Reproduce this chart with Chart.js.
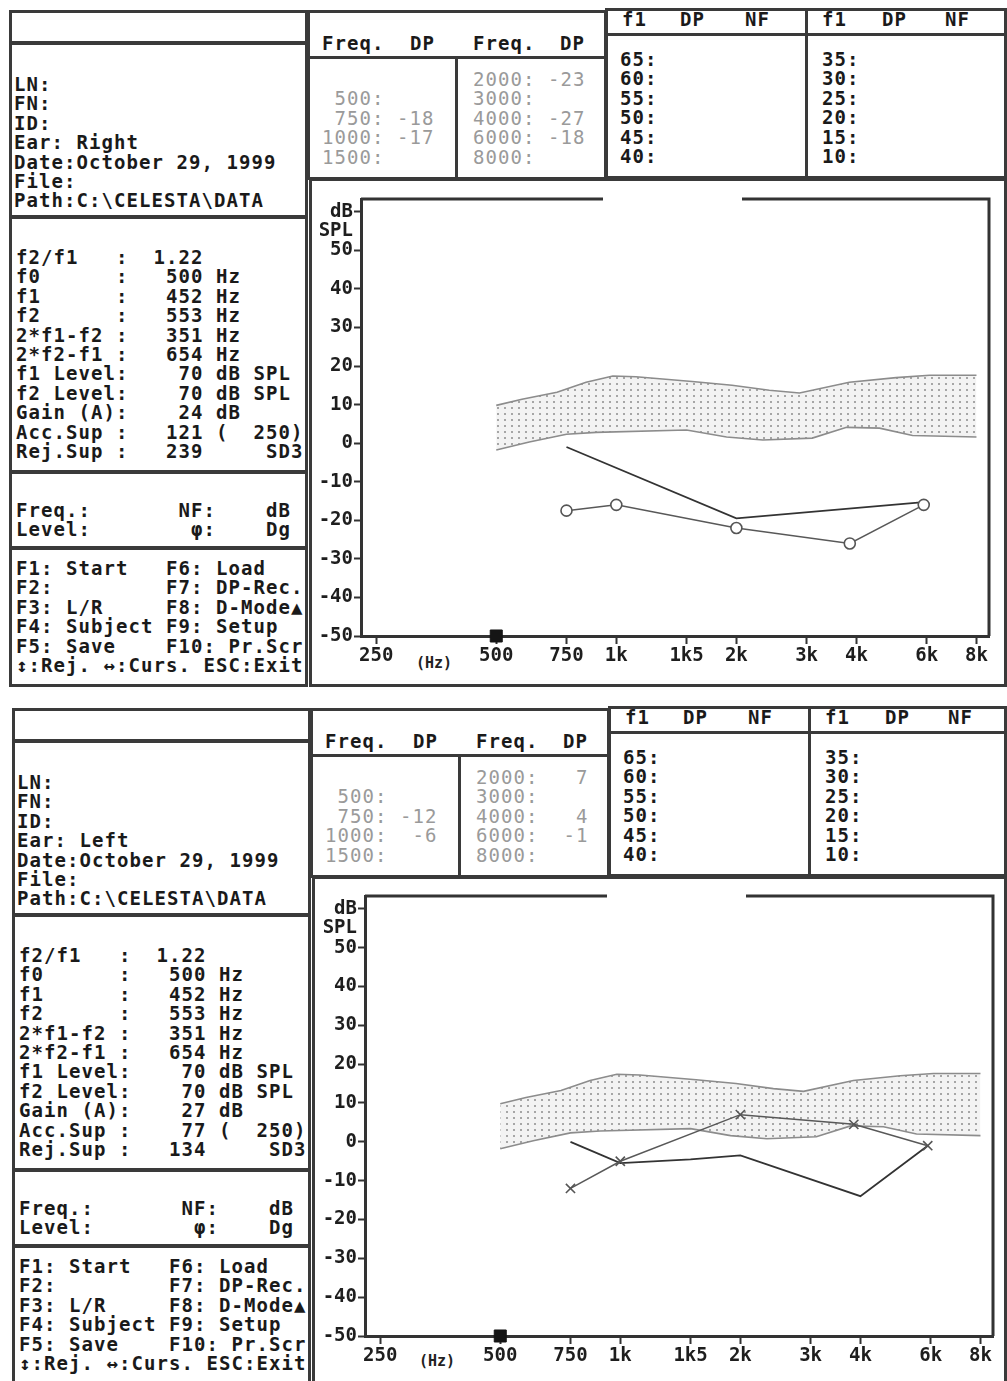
<!DOCTYPE html>
<html>
<head>
<meta charset="utf-8">
<script src="https://cdn.jsdelivr.net/npm/chart.js@4.4.0/dist/chart.umd.min.js"></script>
<style>
body { margin: 0; background: #fff; width: 1007px; height: 1381px; position: relative; overflow: hidden; font-family: 'DejaVu Sans Mono', monospace; }
.box { position: absolute; border: 3px solid #3a3a3a; box-sizing: border-box; background: #fff; }
.ln { position: absolute; background: #3a3a3a; }
.t { position: absolute; white-space: pre; font-weight: bold; font-size: 19px; letter-spacing: 1.06px; line-height: 19.4px; color: #1a1a1a; }
.g { font-weight: normal; color: #9a9a9a; }
.hz { position: absolute; font-weight: bold; font-size: 15px; color: #222; }
.cw { position: absolute; }
</style>
</head>
<body>
<script>
// chart values
const xTickVals = [250, 500, 750, 1000, 1500, 2000, 3000, 4000, 6000, 8000];
const xTickLabels = ['250', '500', '750', '1k', '1k5', '2k', '3k', '4k', '6k', '8k'];
const yTickVals = [-50, -40, -30, -20, -10, 0, 10, 20, 30, 40, 50, 55, 60];
const yTickLabels = ['-50', '-40', '-30', '-20', '-10', '0', '10', '20', '30', '40', '50', 'SPL', 'dB'];

// normal range band
const bandUpperFreq = [500, 580, 710, 840, 980, 1120, 1550, 1950, 2420, 2880, 3840, 5030, 6100, 8000];
const bandUpperDb = [9.8, 11.4, 13.2, 15.8, 17.4, 17.2, 16, 15, 13.7, 13, 15.8, 17, 17.6, 17.6];
const bandLowerFreq = [500, 605, 750, 890, 1500, 1890, 2330, 3100, 3780, 4570, 5530, 8000];
const bandLowerDb = [-1.8, 0.3, 2.3, 2.8, 3.4, 1.6, 0.8, 1.3, 4.1, 3.9, 2.0, 1.6];

// DP values
const dpFreq = [750, 1000, 2000, 3850, 5900];
const dpRight = [-17.5, -16, -22, -26, -16];
const dpLeft = [-12, -5, 7, 4.5, -1];

// noise floor
const nfRightFreq = [750, 2000, 5900];
const nfRight = [-1, -19.5, -15.3];
const nfLeftFreq = [750, 1000, 1500, 2000, 4000, 5900];
const nfLeft = [0, -5.5, -4.5, -3.5, -14, -1];

const cursorFreq = [500];
const cursorDb = [-50];

// screen texts
const panels = [
  {
    dx: 0, dy: 0, ear: 'Right', gain: '24', acc: '121', rej: '239',
    tabL: ['', ' 500:', ' 750: -18', '1000: -17', '1500:'],
    tabR: ['2000: -23', '3000:', '4000: -27', '6000: -18', '8000:']
  },
  {
    dx: 3, dy: 698, ear: 'Left', gain: '27', acc: ' 77', rej: '134',
    tabL: ['', ' 500:', ' 750: -12', '1000:  -6', '1500:'],
    tabR: ['2000:   7', '3000:', '4000:   4', '6000:  -1', '8000:']
  }
];

function add(cls, x, y, w, h, text) {
  const d = document.createElement('div');
  d.className = cls;
  d.style.left = x + 'px';
  d.style.top = y + 'px';
  if (w != null) d.style.width = w + 'px';
  if (h != null) d.style.height = h + 'px';
  if (text != null) d.textContent = text;
  document.body.appendChild(d);
  return d;
}

panels.forEach(p => {
  const X = v => v + p.dx, Y = v => v + p.dy;
  // left column
  add('box', X(9), Y(10), 299, 34);
  add('box', X(9), Y(42), 299, 176);
  add('box', X(9), Y(216), 299, 257);
  add('box', X(9), Y(471), 299, 78);
  add('box', X(9), Y(547), 299, 140);
  // tables
  add('box', X(307), Y(10), 300, 170);
  add('ln', X(307), Y(56), 300, 3);
  add('ln', X(455), Y(57), 3, 122);
  add('box', X(605), Y(8), 402 - p.dx, 171);
  add('ln', X(605), Y(33), 402, 3);
  add('ln', X(805), Y(8), 3, 171);
  // chart frame box
  add('box', X(309), Y(178), 698 - p.dx, 509);

  add('t', X(14), Y(75), null, null,
    ['LN:', 'FN:', 'ID:', 'Ear: ' + p.ear, 'Date:October 29, 1999', 'File:', 'Path:C:\\CELESTA\\DATA'].join('\n'));
  add('t', X(16), Y(248), null, null, [
    'f2/f1   :  1.22',
    'f0      :   500 Hz',
    'f1      :   452 Hz',
    'f2      :   553 Hz',
    '2*f1-f2 :   351 Hz',
    '2*f2-f1 :   654 Hz',
    'f1 Level:    70 dB SPL',
    'f2 Level:    70 dB SPL',
    'Gain (A):    ' + p.gain + ' dB',
    'Acc.Sup :   ' + p.acc + ' (  250)',
    'Rej.Sup :   ' + p.rej + '     SD3'
  ].join('\n'));
  add('t', X(16), Y(501), null, null, ['Freq.:       NF:    dB', 'Level:        \u03c6:    Dg'].join('\n'));
  add('t', X(16), Y(559), null, null, [
    'F1: Start   F6: Load',
    'F2:         F7: DP-Rec.',
    'F3: L/R     F8: D-Mode\u25b2',
    'F4: Subject F9: Setup',
    'F5: Save    F10: Pr.Scr',
    '\u2195:Rej. \u2194:Curs. ESC:Exit'
  ].join('\n'));

  add('t', X(322), Y(34), null, null, 'Freq.');
  add('t', X(410), Y(34), null, null, 'DP');
  add('t', X(473), Y(34), null, null, 'Freq.');
  add('t', X(560), Y(34), null, null, 'DP');
  add('t g', X(322), Y(70), null, null, p.tabL.join('\n'));
  add('t g', X(473), Y(70), null, null, p.tabR.join('\n'));

  add('t', X(622), Y(10), null, null, 'f1');
  add('t', X(680), Y(10), null, null, 'DP');
  add('t', X(745), Y(10), null, null, 'NF');
  add('t', X(822), Y(10), null, null, 'f1');
  add('t', X(882), Y(10), null, null, 'DP');
  add('t', X(945), Y(10), null, null, 'NF');
  add('t', X(620), Y(50), null, null, ['65:', '60:', '55:', '50:', '45:', '40:'].join('\n'));
  add('t', X(822), Y(50), null, null, ['35:', '30:', '25:', '20:', '15:', '10:'].join('\n'));

  add('hz', X(416), Y(654), null, null, '(Hz)');
});

function dotPattern() {
  const c = document.createElement('canvas');
  c.width = 7; c.height = 6;
  const g = c.getContext('2d');
  g.fillStyle = '#f3f3f3';
  g.fillRect(0, 0, 7, 6);
  g.fillStyle = '#a6a6a6';
  g.fillRect(3, 2, 2, 2);
  return g.createPattern(c, 'repeat');
}

const pts = (xs, ys) => xs.map((x, i) => ({ x: x, y: ys[i] }));

// frame top (with title gap) and right side
const framePlugin = {
  id: 'frame',
  afterDatasetsDraw(chart) {
    const a = chart.chartArea, ctx = chart.ctx;
    ctx.save();
    ctx.strokeStyle = '#333';
    ctx.lineWidth = 3;
    ctx.beginPath();
    ctx.moveTo(a.left, a.top);
    ctx.lineTo(a.left + 242, a.top);
    ctx.moveTo(a.left + 381, a.top);
    ctx.lineTo(a.right, a.top);
    ctx.lineTo(a.right, a.bottom);
    ctx.stroke();
    ctx.restore();
  }
};

Chart.defaults.font.family = "'DejaVu Sans Mono', monospace";

function makeChart(g, dpVals, nfFreq, nfVals, marker) {
  const wrap = add('cw', g.left, g.top, g.w, g.h);
  const cv = document.createElement('canvas');
  cv.width = g.w; cv.height = g.h;
  wrap.appendChild(cv);
  const tickFont = { size: 19, weight: 'bold' };
  return new Chart(cv, {
    type: 'line',
    data: {
      datasets: [
        {
          data: pts(bandUpperFreq, bandUpperDb), order: 9,
          borderColor: '#8c8c8c', borderWidth: 1.6, pointRadius: 0,
          backgroundColor: dotPattern(), fill: '+1', tension: 0
        },
        {
          data: pts(bandLowerFreq, bandLowerDb), order: 8,
          borderColor: '#8c8c8c', borderWidth: 1.6, pointRadius: 0, fill: false, tension: 0
        },
        {
          data: pts(nfFreq, nfVals), order: 3,
          borderColor: '#333', borderWidth: 1.8, pointRadius: 0, fill: false, tension: 0
        },
        {
          data: pts(dpFreq, dpVals), order: 2,
          borderColor: '#585858', borderWidth: 1.5, fill: false, tension: 0,
          pointStyle: marker, pointRadius: marker === 'circle' ? 5.5 : 6.5,
          pointBorderColor: '#555', pointBackgroundColor: '#fff', pointBorderWidth: 1.6
        },
        {
          data: pts(cursorFreq, cursorDb), order: 1,
          showLine: false, pointStyle: 'rect', pointRadius: 8.5,
          pointBackgroundColor: '#151515', pointBorderColor: '#151515', clip: false
        }
      ]
    },
    options: {
      responsive: false,
      animation: false,
      layout: { padding: { top: g.padTop, right: g.padRight, left: 0, bottom: 0 } },
      plugins: { legend: { display: false }, tooltip: { enabled: false } },
      scales: {
        x: {
          type: 'logarithmic', min: 229, max: 8600,
          afterBuildTicks: s => { s.ticks = xTickVals.map(v => ({ value: v })); },
          afterFit: s => { s.height = g.xh; },
          ticks: { autoSkip: false, maxRotation: 0, color: '#1e1e1e', font: tickFont, padding: 1,
            callback: (v, i) => xTickLabels[i] },
          grid: { drawOnChartArea: false, tickLength: 8, tickWidth: 2, tickColor: '#333' },
          border: { color: '#333', width: 3 }
        },
        y: {
          min: -50, max: 63.3,
          afterBuildTicks: s => { s.ticks = yTickVals.map(v => ({ value: v })); },
          afterFit: s => { s.width = g.yw; },
          ticks: { autoSkip: false, color: '#1e1e1e', font: tickFont, padding: 1,
            callback: (v, i) => yTickLabels[i] },
          grid: { drawOnChartArea: false, tickLength: 7, tickWidth: 2,
            tickColor: c => (c.tick && c.tick.value === 55) ? 'rgba(0,0,0,0)' : '#333' },
          border: { color: '#333', width: 3 }
        }
      }
    },
    plugins: [framePlugin]
  });
}

makeChart({ left: 312, top: 183, w: 692, h: 499, yw: 49, padTop: 16, padRight: 15, xh: 46 },
  dpRight, nfRightFreq, nfRight, 'circle');
makeChart({ left: 314, top: 881, w: 692, h: 497, yw: 51, padTop: 15, padRight: 13, xh: 42 },
  dpLeft, nfLeftFreq, nfLeft, 'crossRot');
</script>
</body>
</html>
